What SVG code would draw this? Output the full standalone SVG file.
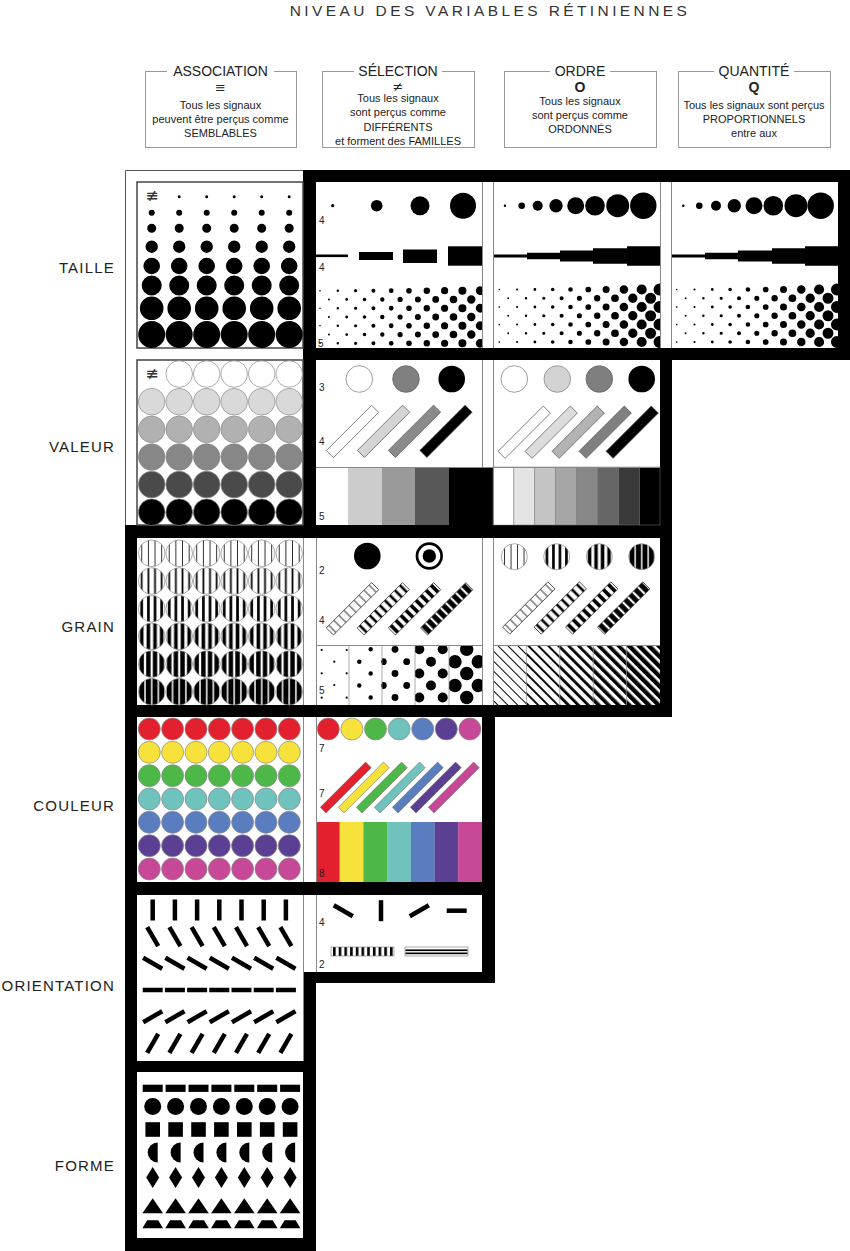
<svg xmlns="http://www.w3.org/2000/svg" width="850" height="1251" viewBox="0 0 850 1251">
<style>
text{font-family:"Liberation Sans",Arial,sans-serif;fill:#222}
.title{font-size:15.5px;letter-spacing:3.4px;text-anchor:middle;fill:#333}
.hd{font-size:14px;text-anchor:middle}
.tx{font-size:11px;text-anchor:middle}
.sym{font-size:13px;text-anchor:middle;font-family:"DejaVu Sans",sans-serif}
.nsym{font-size:16px;text-anchor:middle;font-family:"DejaVu Sans",sans-serif;fill:#333}
.bold{font-size:14px;font-weight:bold;text-anchor:middle}
.rl{font-size:15px;letter-spacing:1.2px;text-anchor:end}
.n{font-size:10px}
.hbox{fill:none;stroke:#999;stroke-width:1}
.ln{stroke:#888;stroke-width:1;fill:none}
.oc{stroke:#888;stroke-width:0.7}
.bar{stroke:#555;stroke-width:0.7}
.dt{stroke:#000;stroke-linecap:round;fill:none}
</style>
<defs>
<clipPath id="cTS"><rect x="316" y="182" width="166" height="166"/></clipPath>
<clipPath id="cTO"><rect x="493" y="182" width="167" height="166"/></clipPath>
<clipPath id="cTQ"><rect x="672" y="182" width="166" height="166"/></clipPath>
<clipPath id="cG1"><rect x="316" y="645" width="33" height="60"/></clipPath>
<clipPath id="cG2"><rect x="349" y="645" width="33" height="60"/></clipPath>
<clipPath id="cG3"><rect x="382" y="645" width="33" height="60"/></clipPath>
<clipPath id="cG4"><rect x="415" y="645" width="34" height="60"/></clipPath>
<clipPath id="cG5"><rect x="449" y="645" width="33" height="60"/></clipPath>
<pattern id="g1" width="0.25" height="1" patternContentUnits="objectBoundingBox"><rect x="0.11" y="0" width="0.03" height="1"/></pattern>
<pattern id="g2" width="0.25" height="1" patternContentUnits="objectBoundingBox"><rect x="0.0925" y="0" width="0.065" height="1"/></pattern>
<pattern id="g3" width="0.25" height="1" patternContentUnits="objectBoundingBox"><rect x="0.075" y="0" width="0.1" height="1"/></pattern>
<pattern id="g4" width="0.25" height="1" patternContentUnits="objectBoundingBox"><rect x="0.0575" y="0" width="0.135" height="1"/></pattern>
<pattern id="g5" width="0.25" height="1" patternContentUnits="objectBoundingBox"><rect x="0.0425" y="0" width="0.165" height="1"/></pattern>
<pattern id="g6" width="0.25" height="1" patternContentUnits="objectBoundingBox"><rect x="0.0275" y="0" width="0.195" height="1"/></pattern>
<pattern id="b1" width="0.1111" height="1" patternContentUnits="objectBoundingBox"><rect x="0.0495" y="0" width="0.012" height="1"/></pattern>
<pattern id="b2" width="0.1111" height="1" patternContentUnits="objectBoundingBox"><rect x="0.0355" y="0" width="0.04" height="1"/></pattern>
<pattern id="b3" width="0.1111" height="1" patternContentUnits="objectBoundingBox"><rect x="0.0265" y="0" width="0.058" height="1"/></pattern>
<pattern id="b4" width="0.1111" height="1" patternContentUnits="objectBoundingBox"><rect x="0.017" y="0" width="0.077" height="1"/></pattern>
<pattern id="h1" width="7" height="7" patternUnits="userSpaceOnUse" patternTransform="rotate(-45)"><rect width="1" height="7"/></pattern>
<pattern id="h2" width="7" height="7" patternUnits="userSpaceOnUse" patternTransform="rotate(-45)"><rect width="1.9" height="7"/></pattern>
<pattern id="h3" width="7" height="7" patternUnits="userSpaceOnUse" patternTransform="rotate(-45)"><rect width="2.8" height="7"/></pattern>
<pattern id="h4" width="7" height="7" patternUnits="userSpaceOnUse" patternTransform="rotate(-45)"><rect width="3.6" height="7"/></pattern>
<pattern id="h5" width="7" height="7" patternUnits="userSpaceOnUse" patternTransform="rotate(-45)"><rect width="4.4" height="7"/></pattern>
<pattern id="vs" x="333" y="0" width="5.7" height="20" patternUnits="userSpaceOnUse"><rect width="2.6" height="20"/></pattern>
<g id="vrow5"><circle cx="179.2" r="13.3"/><circle cx="206.7" r="13.3"/><circle cx="234.2" r="13.3"/><circle cx="261.7" r="13.3"/><circle cx="289.2" r="13.3"/></g>
<g id="vrow6"><circle cx="151.7" r="13.3"/><use href="#vrow5"/></g>
<g id="crow"><circle cx="149.3" r="11"/><circle cx="172.6" r="11"/><circle cx="196" r="11"/><circle cx="219.3" r="11"/><circle cx="242.6" r="11"/><circle cx="266" r="11"/><circle cx="289.3" r="11"/></g>
<rect id="dbar" x="-32" y="-5" width="64" height="10" transform="rotate(-45)"/>
<rect id="cbar" x="-32" y="-4" width="64" height="8" transform="rotate(-45)"/>
<rect id="o0" x="-2.25" y="-10.5" width="4.5" height="21"/>
<rect id="o1" x="-2.25" y="-11" width="4.5" height="22" transform="rotate(-30)"/>
<rect id="o2" x="-2.25" y="-11" width="4.5" height="22" transform="rotate(-60)"/>
<rect id="o3" x="-10" y="-2.25" width="20" height="4.5"/>
<rect id="o4" x="-2.25" y="-11" width="4.5" height="22" transform="rotate(60)"/>
<rect id="o5" x="-2.25" y="-11" width="4.5" height="22" transform="rotate(30)"/>
<rect id="f1" x="-10" y="-3.6" width="20" height="7.2"/>
<circle id="f2" r="8.5"/>
<rect id="f3" x="-7.3" y="-7.3" width="14.6" height="14.6"/>
<path id="f4" d="M5,-10A10,10 0 0 0 5,10Z"/>
<path id="f5" d="M0,-10.5L6.5,0L0,10.5L-6.5,0Z"/>
<path id="f6" d="M0,-7.5L10.3,7.5L-10.3,7.5Z"/>
<path id="f7" d="M-5.5,-4L5.5,-4L10.3,4L-10.3,4Z"/>
<g id="tdots" class="dt" stroke-dasharray="0 17.5">
<path d="M499.3,289.5v53" stroke-width="1.7"/><path d="M517.1,289.5v53" stroke-width="2.18"/><path d="M534.9,289.5v53" stroke-width="2.82"/><path d="M552.7,289.5v53" stroke-width="3.63"/><path d="M570.5,289.5v53" stroke-width="4.6"/><path d="M588.3,289.5v53" stroke-width="5.73"/><path d="M606.1,289.5v53" stroke-width="7.02"/><path d="M623.9,289.5v53" stroke-width="8.48"/><path d="M641.7,289.5v53" stroke-width="10.1"/><path d="M659.5,289.5v53" stroke-width="11.88"/>
<path d="M508.2,298.25v35.5" stroke-width="1.92"/><path d="M526,298.25v35.5" stroke-width="2.48"/><path d="M543.8,298.25v35.5" stroke-width="3.21"/><path d="M561.6,298.25v35.5" stroke-width="4.09"/><path d="M579.4,298.25v35.5" stroke-width="5.14"/><path d="M597.2,298.25v35.5" stroke-width="6.36"/><path d="M615,298.25v35.5" stroke-width="7.73"/><path d="M632.8,298.25v35.5" stroke-width="9.27"/><path d="M650.6,298.25v35.5" stroke-width="10.97"/>
</g>
</defs>

<rect width="850" height="1251" fill="#fff"/>

<g id="title"><text class="title" x="490" y="16">NIVEAU DES VARIABLES RÉTINIENNES</text></g>

<g id="hdr-association">
<rect class="hbox" x="145.5" y="71.5" width="151" height="76"/>
<rect x="167" y="62" width="107" height="18" fill="#fff"/>
<text class="hd" x="220.5" y="76">ASSOCIATION</text>
<text class="sym" x="220.5" y="92">≡</text>
<text class="tx" x="220.5" y="109">Tous les signaux</text>
<text class="tx" x="220.5" y="123">peuvent être perçus comme</text>
<text class="tx" x="220.5" y="137">SEMBLABLES</text>
</g>
<g id="hdr-selection">
<rect class="hbox" x="322.5" y="71.5" width="152" height="76"/>
<rect x="354" y="62" width="88" height="18" fill="#fff"/>
<text class="hd" x="398" y="76">SÉLECTION</text>
<text class="sym" x="398" y="91">≠</text>
<text class="tx" x="398" y="102">Tous les signaux</text>
<text class="tx" x="398" y="116">sont perçus comme</text>
<text class="tx" x="398" y="131">DIFFÉRENTS</text>
<text class="tx" x="398" y="145">et forment des FAMILLES</text>
</g>
<g id="hdr-ordre">
<rect class="hbox" x="504.5" y="71.5" width="152" height="76"/>
<rect x="550" y="62" width="60" height="18" fill="#fff"/>
<text class="hd" x="580" y="76">ORDRE</text>
<text class="bold" x="580" y="91.5">O</text>
<text class="tx" x="580" y="105">Tous les signaux</text>
<text class="tx" x="580" y="119">sont perçus comme</text>
<text class="tx" x="580" y="133">ORDONNÉS</text>
</g>
<g id="hdr-quantite">
<rect class="hbox" x="678.5" y="71.5" width="152" height="76"/>
<rect x="714" y="62" width="80" height="18" fill="#fff"/>
<text class="hd" x="754" y="76">QUANTITÉ</text>
<text class="bold" x="754" y="91.5">Q</text>
<text class="tx" x="754" y="109">Tous les signaux sont perçus</text>
<text class="tx" x="754" y="123">PROPORTIONNELS</text>
<text class="tx" x="754" y="137">entre aux</text>
</g>

<g id="row-labels">
<text class="rl" x="115" y="273.4">TAILLE</text>
<text class="rl" x="115" y="452.4">VALEUR</text>
<text class="rl" x="115" y="632.4">GRAIN</text>
<text class="rl" x="115" y="811.4">COULEUR</text>
<text class="rl" x="115" y="991.4">ORIENTATION</text>
<text class="rl" x="115" y="1171.4">FORME</text>
</g>

<g id="frame">
<path d="M303,170H850V360H672V717H495V983H316V1251H125V525H303Z" fill="#000"/>
<path d="M125.5,525V170.5H303" fill="none" stroke="#555" stroke-width="1"/>
<g fill="#fff">
<rect x="316" y="182" width="522" height="166"/>
<rect x="316" y="360" width="344" height="165"/>
<rect x="137" y="538" width="523" height="167"/>
<rect x="137" y="717" width="345" height="165"/>
<rect x="137" y="895" width="166" height="166"/>
<rect x="303" y="895" width="179" height="77"/>
<rect x="137" y="1072" width="166" height="166"/>
</g>
</g>

<g id="taille-association">
<rect x="137" y="182" width="166" height="166" fill="#fff" stroke="#444" stroke-width="1.5"/>
<text class="nsym" x="152" y="200.5">≢</text>
<g class="dt" stroke-dasharray="0 27.5">
<path d="M179.2,196.7H289.7" stroke-width="3"/>
<path d="M151.7,212.7H289.7" stroke-width="6"/>
<path d="M151.7,228.3H289.7" stroke-width="9"/>
<path d="M151.7,246.7H289.7" stroke-width="12.4"/>
<path d="M151.7,266H289.7" stroke-width="16.6"/>
<path d="M151.7,285.5H289.7" stroke-width="20"/>
<path d="M151.7,308.3H289.7" stroke-width="23.6"/>
<path d="M151.7,334.5H289.7" stroke-width="27"/>
</g>
</g>

<g id="taille-selection">
<circle cx="332.7" cy="205.7" r="1.6"/>
<circle cx="376.7" cy="205.7" r="5.8"/>
<circle cx="420" cy="205.7" r="9.5"/>
<circle cx="463" cy="205.7" r="13"/>
<rect x="316" y="254.5" width="32" height="2.6"/>
<rect x="359" y="252" width="34" height="8"/>
<rect x="403" y="249.5" width="34" height="13.5"/>
<rect x="448" y="246.3" width="34" height="19.4"/>
<g clip-path="url(#cTS)"><g class="dt" stroke-dasharray="0 17.53">
<path d="M320,290.7v53.1" stroke-width="1.6"/><path d="M337.8,290.7v53.1" stroke-width="2.4"/><path d="M355.6,290.7v53.1" stroke-width="3.2"/><path d="M373.4,290.7v53.1" stroke-width="4"/><path d="M391.2,290.7v53.1" stroke-width="4.8"/><path d="M409,290.7v53.1" stroke-width="5.6"/><path d="M426.8,290.7v53.1" stroke-width="6.4"/><path d="M444.6,290.7v53.1" stroke-width="7.2"/><path d="M462.4,290.7v53.1" stroke-width="8"/><path d="M480.2,290.7v53.1" stroke-width="8.8"/>
<path d="M328.9,299.47v35.6" stroke-width="2"/><path d="M346.7,299.47v35.6" stroke-width="2.8"/><path d="M364.5,299.47v35.6" stroke-width="3.6"/><path d="M382.3,299.47v35.6" stroke-width="4.4"/><path d="M400.1,299.47v35.6" stroke-width="5.2"/><path d="M417.9,299.47v35.6" stroke-width="6"/><path d="M435.7,299.47v35.6" stroke-width="6.8"/><path d="M453.5,299.47v35.6" stroke-width="7.6"/><path d="M471.3,299.47v35.6" stroke-width="8.4"/>
</g></g>
<text class="n" x="319" y="224">4</text>
<text class="n" x="319" y="271">4</text>
<text class="n" x="318" y="347">5</text>
</g>

<g id="taille-ordre">
<circle cx="505" cy="205.7" r="1.2"/><circle cx="521.7" cy="205.7" r="3.3"/><circle cx="537.7" cy="205.7" r="5"/><circle cx="556" cy="205.7" r="6.7"/><circle cx="575.7" cy="205.7" r="8.5"/><circle cx="595" cy="205.7" r="9.8"/><circle cx="617.7" cy="205.7" r="11.5"/><circle cx="643.3" cy="205.7" r="13.2"/>
<path d="M493,254.6H527V252.8H560V250.5H593V248.3H627V246.3H660V265.7H627V263.7H593V261.5H560V259.2H527V257.4H493Z"/>
<g clip-path="url(#cTO)"><use href="#tdots"/></g>
</g>

<g id="taille-quantite">
<circle cx="683.3" cy="205.7" r="1.2"/><circle cx="699.3" cy="205.7" r="3.3"/><circle cx="716" cy="205.7" r="5"/><circle cx="734.3" cy="205.7" r="6.7"/><circle cx="754" cy="205.7" r="8.5"/><circle cx="773.3" cy="205.7" r="9.8"/><circle cx="796" cy="205.7" r="11.5"/><circle cx="820.7" cy="205.7" r="13.2"/>
<path d="M672,254.6H705V252.8H738V250.5H772V248.3H805V246.3H838V265.7H805V263.7H772V261.5H738V259.2H705V257.4H672Z"/>
<g clip-path="url(#cTQ)"><use href="#tdots" x="177.4"/></g>
</g>

<g id="valeur-association">
<rect x="137" y="360" width="166" height="165" fill="#fff" stroke="#444" stroke-width="1.5"/>
<text class="nsym" x="152" y="378.5">≢</text>
<g class="oc">
<use href="#vrow5" y="374" fill="#fff"/>
<use href="#vrow6" y="401.7" fill="#d9d9d9"/>
<use href="#vrow6" y="429.3" fill="#b1b1b1"/>
<use href="#vrow6" y="457" fill="#878787"/>
<use href="#vrow6" y="484.5" fill="#4a4a4a"/>
<use href="#vrow6" y="512.2" fill="#000"/>
</g>
</g>

<g id="valeur-selection">
<circle cx="359.3" cy="379" r="13.3" fill="#fff" stroke="#888" stroke-width="0.8"/>
<circle cx="406" cy="379" r="13.3" fill="#808080" stroke="#666" stroke-width="0.8"/>
<circle cx="451.7" cy="379" r="13.3" fill="#000"/>
<g class="bar">
<use href="#dbar" x="352.5" y="431.5" fill="#fff"/>
<use href="#dbar" x="383.5" y="431.3" fill="#d4d4d4"/>
<use href="#dbar" x="414.5" y="431.3" fill="#8a8a8a"/>
<use href="#dbar" x="446" y="431.3" fill="#000"/>
</g>
<rect x="348" y="467" width="34" height="58" fill="#cccccc"/>
<rect x="382" y="467" width="33" height="58" fill="#9a9a9a"/>
<rect x="415" y="467" width="34" height="58" fill="#585858"/>
<rect x="449" y="467" width="44" height="58" fill="#000"/>
<text class="n" x="319" y="391">3</text>
<text class="n" x="319" y="445">4</text>
<text class="n" x="319" y="520">5</text>
</g>

<g id="valeur-ordre">
<circle cx="514.3" cy="379" r="13.3" fill="#fff" stroke="#888" stroke-width="0.8"/>
<circle cx="557.3" cy="379" r="13.3" fill="#d3d3d3" stroke="#888" stroke-width="0.8"/>
<circle cx="599.3" cy="379" r="13.3" fill="#7f7f7f" stroke="#666" stroke-width="0.8"/>
<circle cx="641.7" cy="379" r="13.3" fill="#000"/>
<g class="bar">
<use href="#dbar" x="524.2" y="432.2" fill="#fff"/>
<use href="#dbar" x="551.2" y="432.2" fill="#dcdcdc"/>
<use href="#dbar" x="578.2" y="432.2" fill="#b3b3b3"/>
<use href="#dbar" x="605.2" y="432.2" fill="#808080"/>
<use href="#dbar" x="632.2" y="432.2" fill="#000"/>
</g>
<g stroke="#777" stroke-width="0.5">
<rect x="493" y="467" width="20.9" height="58" fill="#fff"/>
<rect x="513.9" y="467" width="20.9" height="58" fill="#e4e4e4"/>
<rect x="534.8" y="467" width="20.9" height="58" fill="#c4c4c4"/>
<rect x="555.7" y="467" width="20.9" height="58" fill="#a6a6a6"/>
<rect x="576.6" y="467" width="20.9" height="58" fill="#878787"/>
<rect x="597.5" y="467" width="20.9" height="58" fill="#666"/>
<rect x="618.4" y="467" width="20.9" height="58" fill="#3a3a3a"/>
<rect x="639.3" y="467" width="20.7" height="58" fill="#000"/>
</g>
</g>

<g id="grain-association" class="oc">
<use href="#vrow6" y="553.3" fill="url(#g1)"/>
<use href="#vrow6" y="581" fill="url(#g2)"/>
<use href="#vrow6" y="608.7" fill="url(#g3)"/>
<use href="#vrow6" y="636.3" fill="url(#g4)"/>
<use href="#vrow6" y="664" fill="url(#g5)"/>
<use href="#vrow6" y="691.7" fill="url(#g6)"/>
</g>

<g id="grain-selection">
<circle cx="367.3" cy="556" r="13.3"/>
<circle cx="429.3" cy="556" r="12.3" fill="#fff" stroke="#000" stroke-width="2.7"/>
<circle cx="429.3" cy="556" r="6.7"/>
<g stroke="#333" stroke-width="0.8">
<use href="#dbar" x="352.5" y="608.8" fill="url(#b1)"/>
<use href="#dbar" x="383.3" y="608.8" fill="url(#b2)"/>
<use href="#dbar" x="414.5" y="608.8" fill="url(#b3)"/>
<use href="#dbar" x="446.7" y="608.8" fill="url(#b4)"/>
</g>
<g clip-path="url(#cG1)"><circle cx="321.7" cy="650" r="1.1"/><circle cx="346.7" cy="650" r="1.1"/><circle cx="334.3" cy="661.7" r="1.1"/><circle cx="321.7" cy="673.3" r="1.1"/><circle cx="346.7" cy="673.3" r="1.1"/><circle cx="334.3" cy="685" r="1.1"/><circle cx="321.7" cy="697.7" r="1.1"/><circle cx="346.7" cy="697.7" r="1.1"/></g>
<g clip-path="url(#cG2)"><circle cx="370.7" cy="649.3" r="2.2"/><circle cx="359.3" cy="661.7" r="2.2"/><circle cx="383.3" cy="661.7" r="2.2"/><circle cx="370.7" cy="673.5" r="2.2"/><circle cx="359.3" cy="685.5" r="2.2"/><circle cx="383.3" cy="685.5" r="2.2"/><circle cx="370.7" cy="697.5" r="2.2"/></g>
<g clip-path="url(#cG3)"><circle cx="395" cy="649.3" r="3.4"/><circle cx="383.3" cy="661.7" r="3.4"/><circle cx="406.7" cy="661.7" r="3.4"/><circle cx="395" cy="673.5" r="3.4"/><circle cx="383.3" cy="685.5" r="3.4"/><circle cx="406.7" cy="685.5" r="3.4"/><circle cx="395" cy="697.5" r="3.4"/></g>
<g clip-path="url(#cG4)"><circle cx="419.3" cy="649.3" r="5"/><circle cx="442.7" cy="649.3" r="5"/><circle cx="431" cy="661.7" r="5"/><circle cx="419.3" cy="673.5" r="5"/><circle cx="442.7" cy="673.5" r="5"/><circle cx="431" cy="685.5" r="5"/><circle cx="419.3" cy="697.5" r="5"/><circle cx="442.7" cy="697.5" r="5"/></g>
<g clip-path="url(#cG5)"><circle cx="466.7" cy="649.3" r="6.7"/><circle cx="455" cy="661.7" r="6.7"/><circle cx="478.3" cy="661.7" r="6.7"/><circle cx="466.7" cy="673.5" r="6.7"/><circle cx="455" cy="685.5" r="6.7"/><circle cx="478.3" cy="685.5" r="6.7"/><circle cx="466.7" cy="697.5" r="6.7"/></g>
<text class="n" x="319" y="574">2</text>
<text class="n" x="319" y="624">4</text>
<text class="n" x="319" y="694">5</text>
</g>

<g id="grain-ordre">
<g class="oc">
<circle cx="514.3" cy="556.7" r="13" fill="url(#g1)"/>
<circle cx="556.7" cy="556.7" r="13" fill="url(#g3)"/>
<circle cx="599.3" cy="556.7" r="13" fill="url(#g4)"/>
<circle cx="641.7" cy="556.7" r="13" fill="url(#g6)"/>
</g>
<g stroke="#333" stroke-width="0.8">
<use href="#dbar" x="528.8" y="608" fill="url(#b1)"/>
<use href="#dbar" x="560.3" y="608" fill="url(#b2)"/>
<use href="#dbar" x="591.7" y="608" fill="url(#b3)"/>
<use href="#dbar" x="623.7" y="608" fill="url(#b4)"/>
</g>
<rect x="493" y="645" width="33.4" height="60" fill="url(#h1)"/>
<rect x="526.4" y="645" width="33.4" height="60" fill="url(#h2)"/>
<rect x="559.8" y="645" width="33.4" height="60" fill="url(#h3)"/>
<rect x="593.2" y="645" width="33.4" height="60" fill="url(#h4)"/>
<rect x="626.6" y="645" width="33.4" height="60" fill="url(#h5)"/>
</g>

<g id="couleur-association" class="oc">
<use href="#crow" y="729" fill="#e2202e"/>
<use href="#crow" y="752.3" fill="#f6e23b"/>
<use href="#crow" y="775.7" fill="#4db848"/>
<use href="#crow" y="799" fill="#6fc3bc"/>
<use href="#crow" y="822.3" fill="#5a7dc0"/>
<use href="#crow" y="845.7" fill="#5b3f93"/>
<use href="#crow" y="869" fill="#c74896"/>
</g>

<g id="couleur-selection">
<g class="oc">
<circle cx="328.3" cy="729" r="11" fill="#e2202e"/><circle cx="351.9" cy="729" r="11" fill="#f6e23b"/><circle cx="375.5" cy="729" r="11" fill="#4db848"/><circle cx="399.1" cy="729" r="11" fill="#6fc3bc"/><circle cx="422.7" cy="729" r="11" fill="#5a7dc0"/><circle cx="446.3" cy="729" r="11" fill="#5b3f93"/><circle cx="469.9" cy="729" r="11" fill="#c74896"/>
</g>
<g stroke="#666" stroke-width="0.5">
<use href="#cbar" x="345.8" y="787.5" fill="#e2202e"/>
<use href="#cbar" x="363.8" y="787.5" fill="#f6e23b"/>
<use href="#cbar" x="381.8" y="787.5" fill="#4db848"/>
<use href="#cbar" x="399.8" y="787.5" fill="#6fc3bc"/>
<use href="#cbar" x="417.8" y="787.5" fill="#5a7dc0"/>
<use href="#cbar" x="435.8" y="787.5" fill="#5b3f93"/>
<use href="#cbar" x="453.8" y="787.5" fill="#c74896"/>
</g>
<rect x="316" y="822" width="23.8" height="60" fill="#e2202e"/>
<rect x="339.7" y="822" width="23.8" height="60" fill="#f6e23b"/>
<rect x="363.4" y="822" width="23.8" height="60" fill="#4db848"/>
<rect x="387.1" y="822" width="23.8" height="60" fill="#6fc3bc"/>
<rect x="410.8" y="822" width="23.8" height="60" fill="#5a7dc0"/>
<rect x="434.5" y="822" width="23.8" height="60" fill="#5b3f93"/>
<rect x="458.2" y="822" width="23.8" height="60" fill="#c74896"/>
<text class="n" x="319" y="752">7</text>
<text class="n" x="319" y="797">7</text>
<text class="n" x="319" y="877">8</text>
</g>

<g id="orientation-association">
<use href="#o0" x="152.7" y="910"/><use href="#o0" x="174.9" y="910"/><use href="#o0" x="197.1" y="910"/><use href="#o0" x="219.3" y="910"/><use href="#o0" x="241.5" y="910"/><use href="#o0" x="263.7" y="910"/><use href="#o0" x="285.9" y="910"/>
<use href="#o1" x="152.7" y="936.7"/><use href="#o1" x="174.9" y="936.7"/><use href="#o1" x="197.1" y="936.7"/><use href="#o1" x="219.3" y="936.7"/><use href="#o1" x="241.5" y="936.7"/><use href="#o1" x="263.7" y="936.7"/><use href="#o1" x="285.9" y="936.7"/>
<use href="#o2" x="152.7" y="963.3"/><use href="#o2" x="174.9" y="963.3"/><use href="#o2" x="197.1" y="963.3"/><use href="#o2" x="219.3" y="963.3"/><use href="#o2" x="241.5" y="963.3"/><use href="#o2" x="263.7" y="963.3"/><use href="#o2" x="285.9" y="963.3"/>
<use href="#o3" x="152.7" y="990"/><use href="#o3" x="174.9" y="990"/><use href="#o3" x="197.1" y="990"/><use href="#o3" x="219.3" y="990"/><use href="#o3" x="241.5" y="990"/><use href="#o3" x="263.7" y="990"/><use href="#o3" x="285.9" y="990"/>
<use href="#o4" x="152.7" y="1016.7"/><use href="#o4" x="174.9" y="1016.7"/><use href="#o4" x="197.1" y="1016.7"/><use href="#o4" x="219.3" y="1016.7"/><use href="#o4" x="241.5" y="1016.7"/><use href="#o4" x="263.7" y="1016.7"/><use href="#o4" x="285.9" y="1016.7"/>
<use href="#o5" x="152.7" y="1043.3"/><use href="#o5" x="174.9" y="1043.3"/><use href="#o5" x="197.1" y="1043.3"/><use href="#o5" x="219.3" y="1043.3"/><use href="#o5" x="241.5" y="1043.3"/><use href="#o5" x="263.7" y="1043.3"/><use href="#o5" x="285.9" y="1043.3"/>
</g>

<g id="orientation-selection">
<use href="#o2" x="343.3" y="910.7"/>
<use href="#o0" x="381" y="910.7"/>
<use href="#o4" x="419.3" y="910.7"/>
<use href="#o3" x="456.7" y="910.7"/>
<rect x="331" y="947" width="63" height="9" fill="url(#vs)" stroke="#888" stroke-width="0.7"/>
<rect x="405" y="947" width="63" height="9" fill="#fff" stroke="#888" stroke-width="0.7"/>
<rect x="405.5" y="949.4" width="62" height="1.7"/>
<rect x="405.5" y="952.5" width="62" height="1.7"/>
<text class="n" x="319" y="926">4</text>
<text class="n" x="319" y="968">2</text>
</g>

<g id="forme-association">
<use href="#f1" x="152.7" y="1088.3"/><use href="#f1" x="175.6" y="1088.3"/><use href="#f1" x="198.5" y="1088.3"/><use href="#f1" x="221.4" y="1088.3"/><use href="#f1" x="244.3" y="1088.3"/><use href="#f1" x="267.2" y="1088.3"/><use href="#f1" x="290.1" y="1088.3"/>
<use href="#f2" x="152.7" y="1106.6"/><use href="#f2" x="175.6" y="1106.6"/><use href="#f2" x="198.5" y="1106.6"/><use href="#f2" x="221.4" y="1106.6"/><use href="#f2" x="244.3" y="1106.6"/><use href="#f2" x="267.2" y="1106.6"/><use href="#f2" x="290.1" y="1106.6"/>
<use href="#f3" x="152.7" y="1129.5"/><use href="#f3" x="175.6" y="1129.5"/><use href="#f3" x="198.5" y="1129.5"/><use href="#f3" x="221.4" y="1129.5"/><use href="#f3" x="244.3" y="1129.5"/><use href="#f3" x="267.2" y="1129.5"/><use href="#f3" x="290.1" y="1129.5"/>
<use href="#f4" x="152.7" y="1152.5"/><use href="#f4" x="175.6" y="1152.5"/><use href="#f4" x="198.5" y="1152.5"/><use href="#f4" x="221.4" y="1152.5"/><use href="#f4" x="244.3" y="1152.5"/><use href="#f4" x="267.2" y="1152.5"/><use href="#f4" x="290.1" y="1152.5"/>
<use href="#f5" x="152.7" y="1177.5"/><use href="#f5" x="175.6" y="1177.5"/><use href="#f5" x="198.5" y="1177.5"/><use href="#f5" x="221.4" y="1177.5"/><use href="#f5" x="244.3" y="1177.5"/><use href="#f5" x="267.2" y="1177.5"/><use href="#f5" x="290.1" y="1177.5"/>
<use href="#f6" x="152.7" y="1205.8"/><use href="#f6" x="175.6" y="1205.8"/><use href="#f6" x="198.5" y="1205.8"/><use href="#f6" x="221.4" y="1205.8"/><use href="#f6" x="244.3" y="1205.8"/><use href="#f6" x="267.2" y="1205.8"/><use href="#f6" x="290.1" y="1205.8"/>
<use href="#f7" x="152.7" y="1224.2"/><use href="#f7" x="175.6" y="1224.2"/><use href="#f7" x="198.5" y="1224.2"/><use href="#f7" x="221.4" y="1224.2"/><use href="#f7" x="244.3" y="1224.2"/><use href="#f7" x="267.2" y="1224.2"/><use href="#f7" x="290.1" y="1224.2"/>
</g>

<g id="connectors" class="ln">
<path d="M482.5,182V348M493.5,182V348M660.5,182V348M671.5,182V348"/>
<path d="M482.5,360V467M493.5,360V525M316,467.5H660"/>
<path d="M303.5,538V705M316.5,538V705M482.5,538V705M493.5,538V705M316,645.5H482M493,645.5H660"/>
<path d="M349,645V705M382,645V705M415,645V705M449,645V705" stroke-width="0.7"/>
<path d="M526.4,645V705M559.8,645V705M593.2,645V705M626.6,645V705" stroke-width="0.7"/>
<path d="M303.5,717V882M316.5,717V882"/>
<path d="M303.5,895V1061M316.5,895V972"/>
</g>
</svg>
